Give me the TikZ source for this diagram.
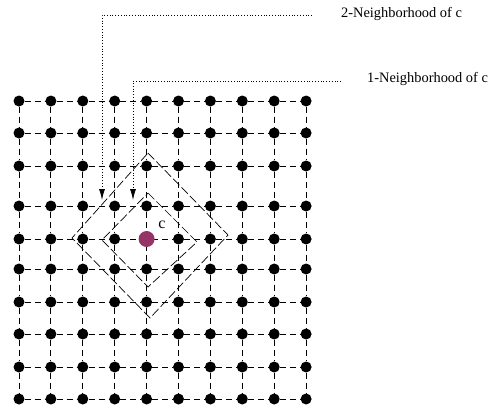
\documentclass[tikz,border=0pt]{standalone}
\usepackage{fontspec}
\setmainfont{Liberation Serif}
\usetikzlibrary{arrows.meta}
\definecolor{cellpurple}{RGB}{150,52,104}

\begin{document}
\begin{tikzpicture}[
  x=1pt, y=-1pt,
  site/.style={circle, fill=black, inner sep=0pt, minimum size=11pt},
  centre/.style={circle, fill=cellpurple, inner sep=0pt, minimum size=16pt},
  link/.style={dash pattern=on 6pt off 4pt, line width=1pt},
  hood/.style={dash pattern=on 9pt off 3pt, line width=0.7pt},
  leader/.style={dotted, line width=0.8pt, -{Latex[length=11pt,width=6pt]}},
  tag/.style={font=\fontsize{14.4}{16}\selectfont, inner sep=0pt, anchor=base west},
]
  \useasboundingbox (0,0) rectangle (488,405);

  % Lattice sites
  \foreach \j/\y in {0/101,1/133,2/166,3/206,4/239,5/269,6/302,7/334,8/367,9/399}
    \foreach \i in {0,...,9}
      \node[site] (s-\i-\j) at ({19+31.9*\i},\y) {};

  % Dashed links between neighbouring sites
  \foreach \i in {0,...,9}
    \foreach \j [count=\k] in {0,...,8} {
      \draw[link] (s-\i-\j) -- (s-\i-\k);
      \draw[link] (s-\j-\i) -- (s-\k-\i);
    }

  % Centre cell c
  \node[centre] (c) at (s-4-4) {};
  \node[font=\fontsize{16}{18}\selectfont, inner sep=0pt] (clab) at (162,225) {c};

  % Neighbourhoods
  \draw[hood] (148,153) -- (228,235) -- (150,318) -- (72,238) -- cycle;
  \draw[hood] (148,193) -- (197,242) -- (148,287) -- (102,240) -- cycle;

  % Labels and leaders
  \node[tag] (hood2) at (341,17) {2-Neighborhood of c};
  \node[tag] (hood1) at (367,82) {1-Neighborhood of c};
  \coordinate (end2) at (312,15);
  \coordinate (tip2) at (102,200);
  \coordinate (end1) at (341,81);
  \coordinate (tip1) at (133,200);
  \draw[leader] (end2) -| (tip2);
  \draw[leader] (end1) -| (tip1);
\end{tikzpicture}
\end{document}
